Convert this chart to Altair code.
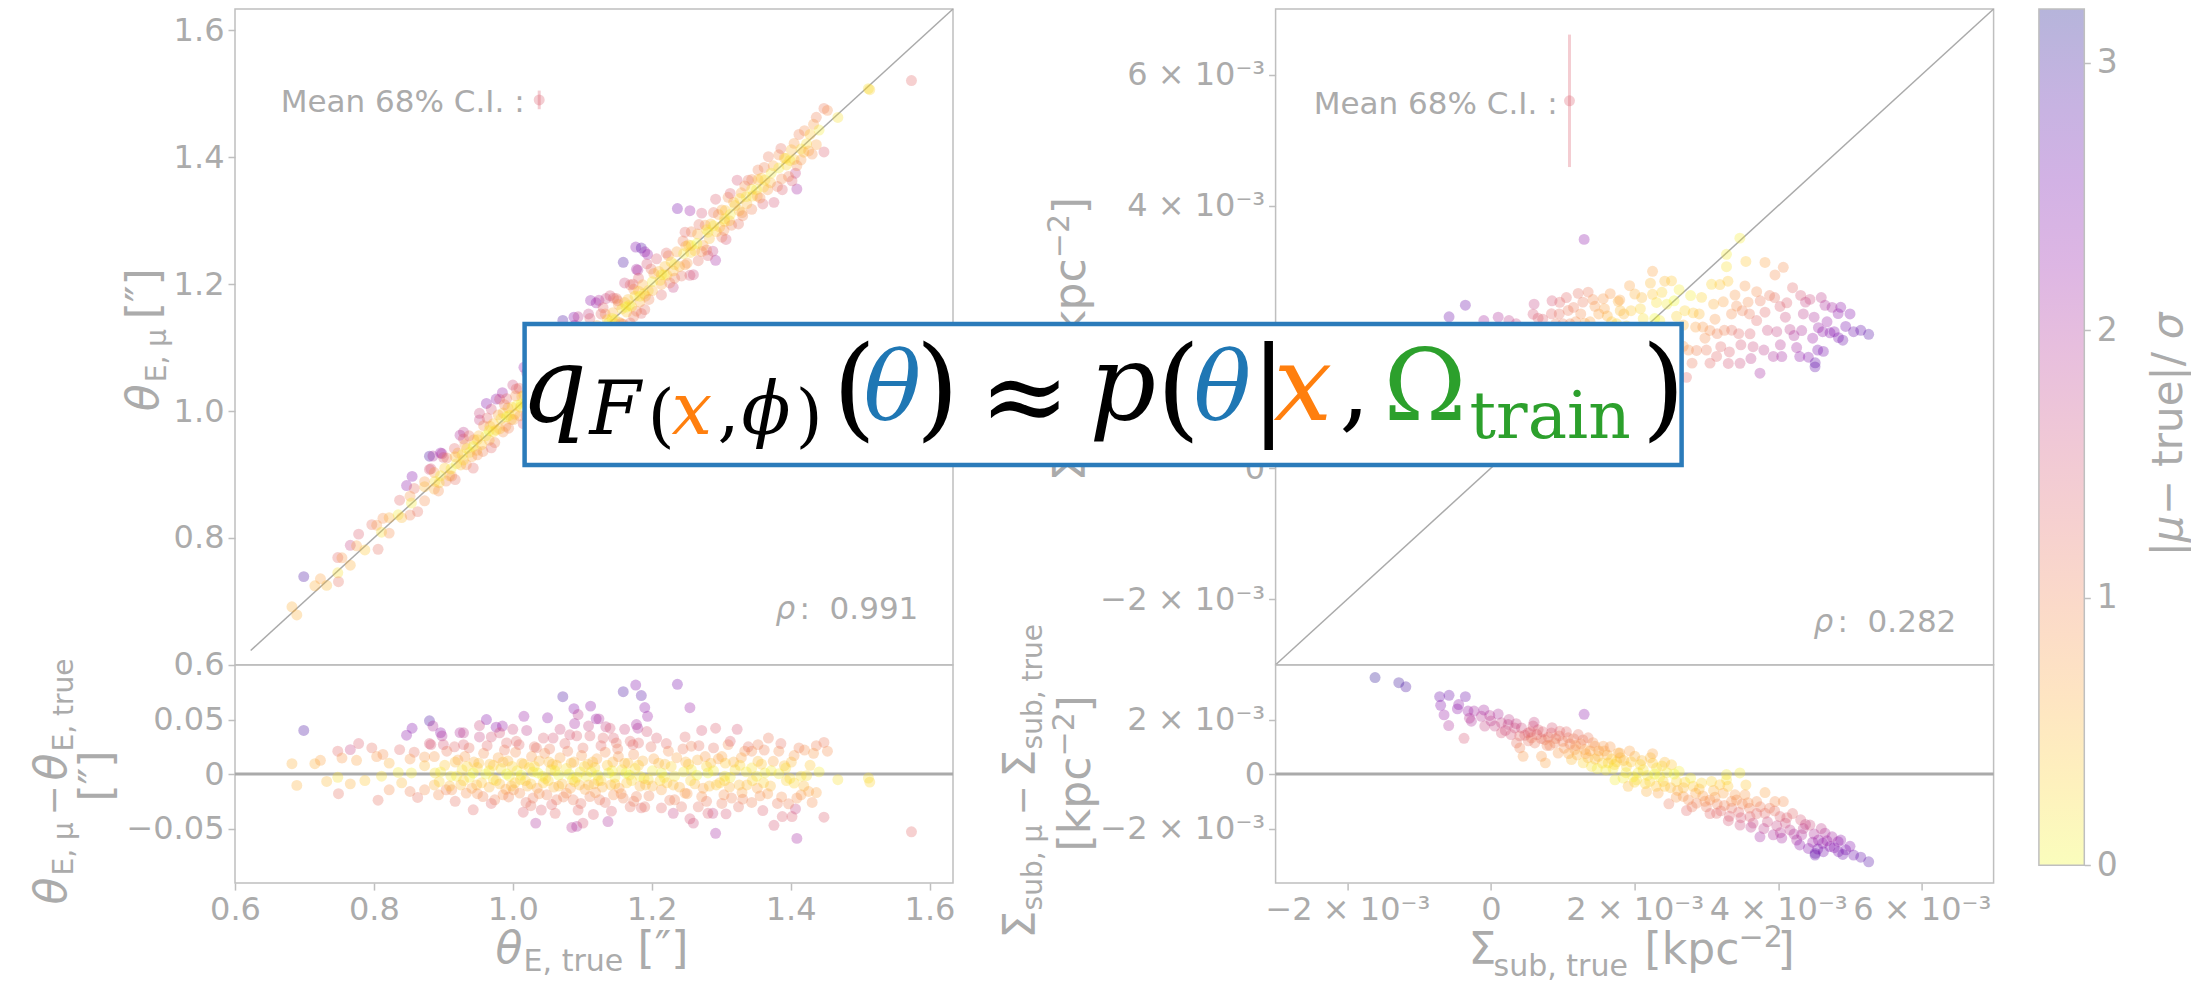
import altair as alt
import pandas as pd

# ---------------- data ----------------
# Left panel: Einstein radius. true value, residual (mu - true), colour value |mu-true|/sigma
THETA_TRUE = [
    0.699, 0.682, 0.689, 0.715, 0.723, 0.732, 0.748, 0.748, 0.749, 0.754,
    0.766, 0.766, 0.775, 0.778, 0.787, 0.797, 0.806, 0.804, 0.813, 0.811,
    0.822, 0.822, 0.837, 0.835, 0.840, 0.847, 0.855, 0.858, 0.852, 0.854,
    0.852, 0.863, 0.873, 0.873, 0.873, 0.880, 0.885, 0.880, 0.882, 0.887,
    0.888, 0.887, 0.896, 0.898, 0.900, 0.904, 0.912, 0.916, 0.919, 0.924,
    0.921,
    0.929, 0.929, 0.952, 0.962, 0.952, 0.969, 0.976, 0.985, 1.000, 1.016,
    1.020, 1.050, 1.072, 1.088, 1.089, 1.094, 1.112, 1.120, 1.124, 1.134,
    1.140, 1.159, 1.161, 1.177, 1.185, 1.178, 1.180, 1.190,
    0.981, 0.991, 1.005, 1.034, 1.044, 1.058, 1.068, 1.082, 1.092, 1.109,
    1.111, 1.130, 1.145, 1.149, 1.169, 1.181,
    0.943, 0.974, 1.015, 1.026, 1.033, 1.041, 1.061, 1.085, 1.092, 1.101,
    1.094, 1.116, 1.137, 1.142, 1.169, 1.185,
    0.933, 0.957, 0.986, 1.001, 1.010, 1.029, 1.049, 1.063, 1.077, 1.087,
    1.111, 1.125, 1.145, 1.159, 1.178,
    0.931, 0.944, 0.958, 0.967, 0.979, 0.993, 1.004, 1.013, 1.027, 1.038,
    1.046, 1.057, 1.068, 1.079, 1.088, 1.099, 1.108, 1.121, 1.133, 1.144,
    1.152, 1.166, 1.174, 1.187,
    0.927, 0.938, 0.949, 0.961, 0.972, 0.983, 0.995, 1.006, 1.018, 1.024,
    1.036, 1.047, 1.055, 1.066, 1.077, 1.086, 1.097, 1.106, 1.118, 1.127,
    1.138, 1.147, 1.157, 1.168, 1.176, 1.189,
    0.925, 0.941, 0.955, 0.966, 0.981, 0.990, 1.003, 1.021, 1.035, 1.044,
    1.059, 1.071, 1.083, 1.096, 1.104, 1.117, 1.129, 1.141, 1.153, 1.164,
    1.183,
    1.194, 1.237, 1.255, 1.207, 1.193, 1.248, 1.272, 1.292, 1.323, 1.368,
    1.353, 1.310, 1.334, 1.383, 1.405, 1.420, 1.437, 1.448, 1.453,
    1.224, 1.257, 1.277, 1.301, 1.344, 1.375, 1.391, 1.353,
    1.344, 1.363, 1.383, 1.393, 1.405, 1.415, 1.423, 1.320, 1.305, 1.281,
    1.257, 1.233, 1.214, 1.195,
    1.292, 1.409, 1.260, 1.255, 1.231, 1.288, 1.307, 1.360, 1.376, 1.388,
    1.402, 1.407, 1.448, 1.431, 1.437, 1.415, 1.397, 1.387, 1.367, 1.344,
    1.330, 1.315, 1.293, 1.361,
    1.190, 1.214, 1.243, 1.267, 1.281, 1.301, 1.325, 1.248, 1.214, 1.272,
    1.233,
    1.203, 1.219, 1.236, 1.249, 1.266, 1.285, 1.296, 1.318, 1.329, 1.201,
    1.222, 1.240, 1.262, 1.274, 1.298, 1.312, 1.337, 1.352,
    1.468, 1.512, 1.514, 1.574,
    0.905, 0.937, 0.963, 0.988, 1.009, 1.031, 1.053, 1.075, 1.101, 1.127,
    1.151, 1.173, 1.199, 1.221, 1.245, 1.268, 1.289, 1.313, 1.339, 1.362,
    1.386, 1.412, 1.433,
    0.902, 0.917, 0.934, 0.951, 0.972, 0.986, 0.999, 1.016, 1.031, 1.052,
    1.063, 1.084, 1.103, 1.115, 1.136, 1.161, 1.181, 1.210, 1.228, 1.253,
    1.279, 1.306, 1.327, 1.358, 1.401, 1.428,
    0.896, 0.911, 0.943, 0.966, 0.991, 1.012, 1.029, 1.043, 1.061, 1.081,
    1.092, 1.113, 1.122, 1.143, 1.163, 1.183, 1.201, 1.218, 1.246, 1.265,
    1.289, 1.313, 1.336, 1.351, 1.372, 1.399, 1.441,
    0.894, 0.909, 0.929, 0.948, 0.976, 0.998, 1.011, 1.026, 1.051, 1.066,
    1.089, 1.109, 1.123, 1.147, 1.171, 1.191, 1.212, 1.231, 1.256, 1.283,
    1.305, 1.326, 1.345, 1.371, 1.394, 1.419,
    0.893, 0.917, 0.949, 0.969, 0.994, 1.019, 1.038, 1.056, 1.073, 1.098,
    1.119, 1.133, 1.156, 1.174, 1.196, 1.226, 1.251, 1.279, 1.304, 1.331,
    1.356, 1.381, 1.409, 1.426,
]
THETA_RESID = [
    0.040, 0.0095, -0.0104, 0.0095, 0.0126, -0.0068, -0.003, 0.021, -0.018, 0.0147,
    0.0224, -0.009, 0.0126, 0.028, -0.006, 0.024, -0.024, 0.016, 0.018, -0.002,
    0.010, -0.0144, 0.0224, 0.0015, -0.008, 0.0356, 0.042, 0.020, 0.0138, 0.001,
    -0.016, -0.0215, 0.0157, 0.0077, -0.0144, 0.0488, 0.044, 0.028, 0.027, 0.016,
    0.001, -0.010, 0.038, 0.035, 0.027, -0.0144, -0.0144, 0.025, -0.002, 0.038,
    0.013,
    0.0378, 0.027, 0.0445, 0.050, 0.034, 0.034, 0.043, 0.044, 0.041, 0.053,
    0.040, 0.0516, 0.0709, 0.0599, 0.0463, 0.0546, 0.0623, 0.0506, 0.0506, 0.0433,
    0.042, 0.0755, 0.041, 0.0816, 0.072, 0.0454, 0.042, 0.061,
    0.0378, 0.0285, 0.030, 0.024, 0.033, 0.033, 0.041, 0.036, 0.035, 0.044,
    0.035, 0.033, 0.033, 0.0285, 0.030, 0.0285,
    -0.0328, -0.0236, -0.035, -0.029, -0.045, -0.033, -0.036, -0.049, -0.048, -0.045,
    -0.033, -0.037, -0.0436, -0.034, -0.030, -0.031,
    -0.0175, -0.0206, -0.019, -0.0144, -0.0175, -0.022, -0.019, -0.0236, -0.0175, -0.0236,
    -0.0206, -0.0236, -0.019, -0.022, -0.0206,
    0.016, 0.011, 0.019, 0.009, 0.015, 0.012, 0.020, 0.010, 0.016, 0.012,
    0.019, 0.009, 0.015, 0.021, 0.011, 0.017, 0.009, 0.014, 0.020, 0.011,
    0.016, 0.010, 0.018, 0.012,
    0.004, -0.003, 0.006, 0.000, -0.005, 0.005, -0.002, 0.003, -0.006, 0.006,
    0.001, -0.004, 0.004, -0.001, 0.005, -0.005, 0.002, -0.002, 0.006, -0.006,
    0.001, -0.003, 0.004, -0.001, 0.005, -0.004,
    -0.010, -0.013, -0.008, -0.012, -0.009, -0.014, -0.008, -0.011, -0.013, -0.008,
    -0.012, -0.009, -0.013, -0.010, -0.014, -0.009, -0.012, -0.010, -0.013, -0.008,
    -0.011,
    0.053, 0.0823, 0.0608, 0.033, 0.039, 0.034, 0.040, 0.042, 0.041, 0.033,
    0.027, 0.027, 0.021, 0.021, 0.017, 0.022, 0.026, 0.029, 0.021,
    0.021, 0.0255, 0.016, 0.016, 0.021, 0.0117, 0.0077, 0.0117,
    0.0055, 0.001, 0.0003, 0.0055, -0.0083, -0.002, -0.0015, 0.004, -0.002, 0.001,
    0.004, -0.002, 0.001, -0.005,
    -0.0543, -0.059, -0.045, -0.041, -0.036, -0.036, -0.0365, -0.0335, -0.047, -0.039,
    -0.039, -0.032, -0.0396, -0.026, -0.017, -0.019, -0.0273, -0.021, -0.018, -0.026,
    -0.017, -0.022, -0.010, -0.008,
    -0.030, -0.031, -0.030, -0.030, -0.036, -0.027, -0.030, -0.0175, -0.0144, -0.0206,
    -0.0236,
    0.014, 0.009, 0.015, 0.011, 0.013, 0.010, 0.014, 0.011, 0.015, -0.011,
    -0.008, -0.012, -0.009, -0.013, -0.008, -0.012, -0.010, -0.013,
    -0.0052, -0.0037, -0.0074, -0.053,
    0.021, 0.024, 0.026, 0.022, 0.027, 0.025, 0.023, 0.028, 0.024, 0.026,
    0.023, 0.027, 0.025, 0.028, 0.023, 0.026, 0.024, 0.030, 0.025, 0.022,
    0.028, 0.024, 0.019,
    0.008, 0.011, 0.007, 0.010, 0.008, 0.011, 0.007, 0.009, 0.007, 0.011,
    0.008, 0.010, 0.007, 0.011, 0.008, 0.010, 0.008, 0.010, 0.007, 0.009,
    0.007, 0.010, 0.008, 0.009, 0.011, 0.008,
    0.002, -0.002, 0.001, 0.003, 0.000, -0.001, 0.002, -0.002, 0.003, 0.000,
    -0.003, 0.002, -0.001, 0.003, 0.001, -0.002, 0.003, -0.003, 0.002, -0.001,
    0.003, -0.003, 0.002, -0.002, 0.003, -0.004, 0.002,
    -0.007, -0.011, -0.006, -0.010, -0.006, -0.011, -0.005, -0.009, -0.006, -0.011,
    -0.007, -0.010, -0.006, -0.009, -0.006, -0.010, -0.006, -0.010, -0.006, -0.011,
    -0.006, -0.010, -0.006, -0.011, -0.006, -0.011,
    -0.019, -0.025, -0.018, -0.027, -0.021, -0.026, -0.018, -0.028, -0.021, -0.027,
    -0.017, -0.026, -0.018, -0.025, -0.020, -0.024, -0.018, -0.025, -0.019, -0.023,
    -0.020, -0.027, -0.022, -0.016,
]
THETA_SCORE = [
    2.9, 0.6, 0.6, 0.6, 0.7, 0.5, 0.2, 1.3, 1.2, 0.8,
    1.7, 0.6, 0.7, 1.4, 0.4, 1.2, 1.2, 0.8, 0.9, 0.2,
    0.6, 0.9, 1.3, 0.1, 0.5, 2.3, 2.4, 1.2, 0.8, 0.1,
    1.0, 1.2, 0.8, 0.5, 0.9, 2.9, 2.0, 1.5, 1.5, 0.8,
    0.2, 0.6, 2.3, 2.0, 1.5, 1.0, 0.9, 1.3, 0.1, 2.0,
    0.7,
    1.8, 1.4, 1.6, 2.4, 1.7, 1.5, 2.3, 2.2, 1.6, 2.2,
    1.8, 2.3, 2.9, 2.4, 2.1, 1.8, 2.3, 2.2, 2.0, 1.7,
    1.5, 2.9, 1.6, 2.4, 2.8, 2.1, 2.0, 2.3,
    1.5, 1.3, 1.3, 1.2, 1.4, 1.5, 1.6, 1.5, 1.4, 1.7,
    1.4, 1.3, 1.4, 1.2, 1.3, 1.3,
    1.3, 1.0, 1.4, 1.2, 2.0, 1.4, 1.3, 1.9, 2.0, 1.5,
    1.3, 1.4, 2.0, 1.4, 1.2, 1.3,
    0.9, 1.0, 0.9, 0.8, 0.9, 1.1, 1.0, 1.1, 0.9, 1.1,
    1.0, 1.1, 0.9, 1.0, 1.0,
    0.8, 0.6, 0.9, 0.5, 0.7, 0.6, 0.9, 0.5, 0.8, 0.6,
    0.9, 0.5, 0.7, 1.0, 0.6, 0.8, 0.5, 0.7, 0.9, 0.6,
    0.8, 0.5, 0.9, 0.6,
    0.2, 0.1, 0.3, 0.0, 0.2, 0.2, 0.1, 0.1, 0.3, 0.3,
    0.0, 0.2, 0.2, 0.0, 0.2, 0.2, 0.1, 0.1, 0.3, 0.3,
    0.0, 0.1, 0.2, 0.0, 0.2, 0.2,
    0.5, 0.7, 0.4, 0.6, 0.5, 0.7, 0.4, 0.6, 0.7, 0.4,
    0.6, 0.5, 0.7, 0.5, 0.7, 0.5, 0.6, 0.5, 0.7, 0.4,
    0.6,
    2.2, 2.5, 2.2, 1.4, 1.5, 1.3, 1.5, 1.4, 1.5, 1.1,
    1.0, 0.9, 0.9, 0.9, 0.8, 0.9, 1.0, 1.1, 0.9,
    0.9, 1.0, 0.8, 0.7, 0.9, 0.7, 0.5, 0.5,
    0.2, 0.1, 0.1, 0.2, 0.3, 0.2, 0.2, 0.2, 0.1, 0.0,
    0.1, 0.1, 0.0, 0.2,
    2.1, 2.1, 1.6, 1.5, 1.7, 1.7, 1.5, 1.4, 1.5, 1.4,
    1.4, 1.7, 1.4, 0.9, 0.7, 0.8, 1.0, 0.9, 0.8, 1.0,
    0.7, 1.0, 0.4, 0.3,
    1.2, 1.3, 1.2, 1.2, 1.4, 1.1, 1.2, 0.8, 0.7, 0.9,
    1.0,
    0.7, 0.5, 0.7, 0.6, 0.6, 0.5, 0.7, 0.6, 0.7, 0.6,
    0.4, 0.6, 0.5, 0.7, 0.4, 0.6, 0.5, 0.7,
    0.2, 0.2, 0.3, 1.3,
    1.1, 1.2, 1.3, 1.1, 1.3, 1.2, 1.1, 1.3, 1.2, 1.3,
    1.1, 1.3, 1.2, 1.3, 1.1, 1.2, 1.2, 1.4, 1.2, 1.0,
    1.2, 1.0, 0.8,
    0.4, 0.5, 0.3, 0.5, 0.4, 0.5, 0.3, 0.4, 0.3, 0.5,
    0.4, 0.5, 0.3, 0.5, 0.4, 0.5, 0.4, 0.5, 0.3, 0.4,
    0.3, 0.4, 0.3, 0.4, 0.5, 0.4,
    0.1, 0.1, 0.0, 0.1, 0.0, 0.0, 0.1, 0.1, 0.1, 0.0,
    0.1, 0.1, 0.0, 0.1, 0.0, 0.1, 0.1, 0.1, 0.1, 0.0,
    0.1, 0.1, 0.1, 0.1, 0.1, 0.2, 0.1,
    0.3, 0.5, 0.3, 0.5, 0.3, 0.5, 0.3, 0.4, 0.3, 0.5,
    0.3, 0.5, 0.3, 0.4, 0.3, 0.5, 0.3, 0.5, 0.3, 0.5,
    0.3, 0.5, 0.3, 0.5, 0.3, 0.5,
    0.9, 1.2, 0.9, 1.3, 1.0, 1.2, 0.9, 1.3, 1.0, 1.2,
    0.8, 1.2, 0.9, 1.1, 1.0, 1.1, 0.8, 1.1, 0.9, 1.0,
    0.9, 1.1, 0.9, 0.7,
]

# Right panel: Sigma_sub in units of 1e-3 kpc^-2
SIGMA_TRUE = [
    -1.615, -1.284, -1.186, -0.715, -0.584, -0.357, -0.701, -0.468, -0.654, -0.589,
    -0.376, -0.320, -0.236, -0.273, -0.134, -0.017, -0.087, 0.053, 0.145, 0.239,
    0.145, 0.331, 0.356, 0.424, 0.401, 0.447, 0.517, 0.586, 0.656, 0.610,
    0.703, 0.757, 0.748, 0.842, 0.958, 0.888, 0.935, 1.074, 1.214, 1.297,
    1.167, 1.121, 1.307, 1.284, 1.400, 1.447, 1.563, 1.493, 1.633, 1.726,
    1.772, 1.353, 0.563,
    0.20, 0.28, 0.47, 0.52, 0.64, 0.70, 0.80, 0.82, 0.90, 1.00,
    1.02, 1.10, 1.15, 1.25, 1.20, 1.35, 1.38, 1.50, 1.55, 1.62,
    1.68, 1.70, 1.60, 1.48, 1.75,
    1.794, 2.003, 2.250, 2.420, 2.514, 1.887, 2.120, 2.305, 1.840, 2.027,
    2.212, 2.398, 2.584, 3.466, 3.280, 3.280, 1.910, 2.166, 2.328, 2.477,
    2.723, 2.816, 2.933, 3.072, 3.188, 2.677, 2.863, 3.049, 3.235, 3.398,
    3.537, 3.816, 3.700, 3.955, 4.071, 3.142, 3.305, 3.468, 3.352, 3.607,
    3.746, 3.816, 3.932, 4.025, 4.164, 4.313, 4.442, 4.327, 4.257, 4.420,
    4.513, 4.629, 4.652, 4.722, 4.839, 4.871, 4.560, 4.030,
    4.835, 5.050, 5.260, 4.515, 4.620, 4.940,
    1.95, 2.05, 2.10, 2.18, 2.25, 2.35, 2.45, 2.50, 2.60, 2.62,
    2.70, 2.75, 2.85, 2.95, 3.00, 3.10, 3.15, 3.20, 3.35, 3.45,
    3.50, 3.60, 3.65, 3.75, 3.85, 3.95, 4.10, 4.20, 4.35, 4.50,
    4.60, 4.75, 2.00, 2.30, 1.85, 3.30, 3.55,
    -0.45, -0.30, -0.10, 0.00, 0.10, 0.25, 0.35, 0.40, 0.55, 0.60,
    0.72, 0.78, 0.85, 0.95, 1.05, 1.08, 1.18, 1.28, 1.32, 1.42,
    1.45, 1.58, 1.66, 1.72, 1.80, 1.88, 1.93, 1.98, 2.08, 2.15,
    2.22, 2.28, 2.38, 2.42, 2.55, 2.58, 2.68, 2.78, 2.80, 2.90,
    2.98, 3.05, 3.12, 3.25, 3.32, 3.42, 3.48, 3.58, 3.62, 3.70,
    3.80, 3.88, 3.98, 4.05, 4.12, 4.22, 4.30, 4.38, 4.48, 4.55,
    4.68, 4.78, 4.90, 5.00, 5.15,
]
SIGMA_RESID = [
    3.54, 3.35, 3.20, 2.84, 2.89, 2.84, 2.52, 2.39, 2.17, 1.78,
    1.31, 2.31, 2.31, 1.94, 2.12, 2.15, 1.76, 1.76, 1.88, 1.82,
    1.51, 1.69, 1.14, 1.69, 0.96, 0.65, 1.51, 1.76, 1.63, 1.14,
    0.65, 0.41, 1.26, 1.51, 1.57, 1.14, 0.77, 1.33, 1.45, 2.19,
    0.90, 0.53, 0.90, 0.41, 0.28, 1.02, 1.02, 0.65, 0.41, -0.21,
    0.77, 1.33, 1.33,
    1.60, 1.45, 1.42, 1.22, 1.45, 1.30, 1.35, 1.05, 1.30, 1.20,
    0.95, 1.10, 1.30, 1.10, 0.70, 0.60, 0.85, 0.85, 0.40, 0.70,
    0.55, 0.20, 0.15, 0.20, 0.45,
    0.77, 0.65, 0.75, 0.43, 0.34, 0.28, 0.16, 0.22, -0.15, -0.21,
    -0.27, -0.27, -0.27, 0.04, -0.02, -0.21, -0.45, -0.64, -0.70, -1.09,
    -1.34, -0.45, -0.33, -0.27, -0.39, -0.82, -1.07, -0.95, -0.70, -0.76,
    -0.76, -0.68, -1.01, -1.01, -1.01, -1.44, -1.71, -1.87, -1.25, -1.56,
    -2.30, -1.44, -2.23, -1.56, -2.05, -1.68, -1.87, -2.23, -2.42, -2.73,
    -2.97, -2.85, -2.17, -2.66, -2.85, -2.42, -2.42, -2.15,
    -2.48, -2.97, -3.22, -2.91, -2.54, -2.78,
    0.45, 0.05, 0.50, -0.05, 0.40, -0.10, 0.05, -0.50, -0.60, 0.10,
    -0.30, -0.95, -0.70, -0.80, -1.20, -0.60, -1.10, -1.35, -1.00, -1.40,
    -1.10, -1.25, -1.80, -1.20, -1.75, -1.35, -1.80, -1.45, -2.00, -2.20,
    -2.00, -2.30, -0.30, -0.45, 0.50, -0.45, -0.40,
    2.55, 2.05, 2.35, 1.95, 2.20, 2.00, 1.85, 1.40, 1.55, 1.90,
    1.55, 1.05, 1.70, 1.40, 1.55, 0.75, 1.05, 1.25, 0.75, 1.15,
    0.55, 0.85, 1.00, 0.35, 0.60, 0.05, 0.85, -0.10, 0.35, -0.35,
    0.60, 0.00, 0.30, -0.45, 0.00, -0.85, -0.50, -0.15, -1.20, -0.55,
    -1.00, -1.45, -0.85, -1.15, -1.55, -0.95, -1.60, -1.05, -1.95, -1.45,
    -2.00, -1.25, -1.90, -2.35, -1.60, -2.20, -2.60, -1.85, -2.50, -2.75,
    -2.45, -2.70, -2.95, -2.65, -3.05,
]
SIGMA_SCORE = [
    3.1, 3.0, 2.9, 2.6, 2.6, 2.6, 2.4, 2.3, 2.2, 2.0,
    1.5, 2.2, 2.1, 2.0, 1.9, 1.9, 1.7, 1.7, 1.7, 1.7,
    1.5, 1.6, 1.2, 1.6, 1.0, 0.8, 1.4, 1.5, 1.4, 1.1,
    0.8, 0.7, 1.1, 1.3, 1.3, 1.0, 0.8, 1.1, 1.2, 2.3,
    0.8, 0.5, 0.7, 0.3, 0.2, 0.8, 0.8, 0.6, 0.3, 0.1,
    0.6, 1.1, 1.1,
    1.6, 1.5, 1.4, 1.2, 1.3, 1.2, 1.2, 1.0, 1.1, 1.1,
    0.9, 1.0, 1.1, 0.9, 0.6, 0.5, 0.7, 0.7, 0.3, 0.6,
    0.4, 0.1, 0.1, 0.1, 0.3,
    0.7, 0.6, 0.7, 0.5, 0.4, 0.3, 0.2, 0.2, 0.1, 0.2,
    0.3, 0.3, 0.3, 0.1, 0.1, 0.2, 0.5, 0.6, 0.7, 1.1,
    1.3, 0.4, 0.3, 0.3, 0.4, 0.8, 1.0, 0.9, 0.7, 0.8,
    0.8, 0.7, 0.9, 0.9, 0.9, 1.3, 1.5, 1.6, 1.2, 1.4,
    2.1, 1.3, 2.0, 1.4, 1.8, 1.5, 1.6, 2.0, 2.1, 2.4,
    2.7, 2.5, 2.0, 2.4, 2.5, 2.3, 2.2, 1.9,
    2.3, 2.6, 2.8, 2.7, 2.3, 2.5,
    0.4, 0.1, 0.5, 0.1, 0.4, 0.1, 0.1, 0.5, 0.6, 0.1,
    0.3, 0.9, 0.7, 0.8, 1.1, 0.6, 1.0, 1.3, 0.9, 1.3,
    1.0, 1.1, 1.6, 1.1, 1.6, 1.2, 1.6, 1.3, 1.8, 2.0,
    1.8, 2.1, 0.3, 0.4, 0.5, 0.4, 0.4,
    2.3, 1.9, 2.1, 1.8, 2.0, 1.8, 1.7, 1.3, 1.4, 1.7,
    1.4, 1.0, 1.5, 1.2, 1.3, 0.7, 0.9, 1.1, 0.7, 0.9,
    0.5, 0.7, 0.8, 0.3, 0.5, 0.1, 0.7, 0.1, 0.3, 0.3,
    0.5, 0.0, 0.3, 0.4, 0.0, 0.8, 0.5, 0.1, 1.1, 0.5,
    0.9, 1.3, 0.8, 1.0, 1.4, 0.9, 1.5, 0.9, 1.8, 1.3,
    1.8, 1.1, 1.7, 2.1, 1.4, 2.0, 2.3, 1.7, 2.2, 2.5,
    2.2, 2.4, 2.6, 2.4, 2.7,
]
assert len(THETA_TRUE) == len(THETA_RESID) == len(THETA_SCORE)
assert len(SIGMA_TRUE) == len(SIGMA_RESID) == len(SIGMA_SCORE)

# mean 68% C.I. markers: x, y, half width, colour value
CI_THETA = [1.038, 1.4905, 0.0147, 1.4]
CI_SIGMA = [1.093, 5.60, 1.01, 1.4]
RHO_TEXT = ["0.991", "0.282"]
DIAG_THETA = [0.6226, 1.6338]
DIAG_SIGMA = [-3.0, 7.0]

THETA_DOMAIN = [0.6, 1.6338]
THETA_RES_DOMAIN = [-0.1, 0.1]
SIGMA_DOMAIN = [-3.0, 7.0]
SIGMA_RES_DOMAIN = [-4.0, 4.0]
COLOR_DOMAIN = [0.0, 3.2]

THETA_TICKS = [0.6, 0.8, 1.0, 1.2, 1.4, 1.6]
THETA_RES_TICKS = [-0.05, 0, 0.05]
SIGMA_TICKS = [-2, 0, 2, 4, 6]
SIGMA_RES_TICKS = [-2, 0, 2]
CBAR_TICKS = [0, 1, 2, 3]
PLASMA = ["#0d0887", "#41049d", "#6a00a8", "#8f0da4", "#b12a90", "#cc4778",
          "#e16462", "#f2844b", "#fca636", "#fcce25", "#f0f921"]

# ---------------- styling / layout ----------------
SANS = "DejaVu Sans"
SERIF = "DejaVu Serif"
TXT = "#ababab"
FRAME = "#bfbfbf"
LINE = "#aaaaaa"
INK = "#000000"
BLUE, ORANGE, GREEN = "#1f77b4", "#ff7f0e", "#2ca02c"
BOX = "#2b7bba"
PT = 120
ALPHA = 0.3
LBL = 32
SUB = 28

LX0, RX0, Y0 = 233.4, 1274.0, 7.8
PW = 718.0
TH, BH = 655.8, 218.1
CB_X0, CB_W, CB_H = 2037.3, 45.4, 856.2

O_LT = (LX0, Y0)
O_LB = (LX0, Y0 + TH)
O_RT = (RX0, Y0)
O_RB = (RX0, Y0 + TH)

ONE = pd.DataFrame({"k": [0]})


def text_layers(specs, origin):
    ox, oy = origin
    out = []
    for sp in specs:
        s, px, py, size = sp[:4]
        o = sp[4] if len(sp) > 4 else {}
        kw = dict(text=s, fontSize=size, font=o.get("font", SANS), color=o.get("color", TXT),
                  align=o.get("align", "left"), baseline="alphabetic")
        if o.get("angle"):
            kw["angle"] = o["angle"]
        if o.get("italic"):
            kw["fontStyle"] = "italic"
        out.append(alt.Chart(ONE).mark_text(**kw).encode(x=alt.value(px - ox), y=alt.value(py - oy)))
    return out


R = {"angle": 270}
IR = {"angle": 270, "italic": True}
I = {"italic": True}

CSCALE = alt.Scale(scheme="plasma", reverse=True, domain=COLOR_DOMAIN, clamp=True)
COLOR = alt.Color("c:Q", scale=CSCALE, legend=None)

SIG_EXPR = "datum.value == 0 ? '0' : format(datum.value, 'd') + ' × 10⁻³'"

# ---------------- left (theta_E) ----------------
left = pd.DataFrame({"t": THETA_TRUE, "r": THETA_RESID, "c": THETA_SCORE})
left["m"] = left["t"] + left["r"]

XL = alt.Scale(domain=THETA_DOMAIN, nice=False, zero=False)
YLT = alt.Scale(domain=THETA_DOMAIN, nice=False, zero=False)
YLB = alt.Scale(domain=THETA_RES_DOMAIN, nice=False, zero=False)
AX_LT_Y = alt.Axis(values=THETA_TICKS, format=".1f", title=None)
AX_LB_Y = alt.Axis(values=THETA_RES_TICKS, labelExpr="datum.value == 0 ? '0' : format(datum.value, '.2f')", title=None)
AX_LB_X = alt.Axis(values=THETA_TICKS, format=".1f", title=None)

lt_x = alt.X("t:Q", scale=XL, axis=None)
lt_pts = alt.Chart(left).mark_circle(size=PT, opacity=ALPHA).encode(
    x=lt_x, y=alt.Y("m:Q", scale=YLT, axis=AX_LT_Y), color=COLOR)
lt_diag = alt.Chart(pd.DataFrame({"t": DIAG_THETA, "m": DIAG_THETA})).mark_line(
    color=LINE, strokeWidth=1.5).encode(x=lt_x, y=alt.Y("m:Q", scale=YLT, axis=AX_LT_Y))
ci_l = pd.DataFrame({"t": [CI_THETA[0]], "m": [CI_THETA[1]], "lo": [CI_THETA[1] - CI_THETA[2]],
                     "hi": [CI_THETA[1] + CI_THETA[2]], "c": [CI_THETA[3]]})
lt_ci_bar = alt.Chart(ci_l).mark_rule(strokeWidth=3, opacity=ALPHA).encode(
    x=lt_x, y=alt.Y("lo:Q", scale=YLT, axis=AX_LT_Y), y2="hi:Q", color=COLOR)
lt_ci_pt = alt.Chart(ci_l).mark_circle(size=PT, opacity=ALPHA).encode(
    x=lt_x, y=alt.Y("m:Q", scale=YLT, axis=AX_LT_Y), color=COLOR)
anchor = alt.Chart(ONE).mark_rule(color="white", strokeWidth=1).encode(
    x=alt.value(-LX0 + 0.5), x2=alt.value(-LX0 + 1.5), y=alt.value(-Y0 + 0.5), y2=alt.value(-Y0 + 0.5))

lt_texts = text_layers([
    ("Mean 68% C.I. :", 523, 111, LBL - 1, {"align": "right"}),
    ("ρ", 774, 618, LBL - 1, I), (":", 798, 618, LBL - 1), (RHO_TEXT[0], 828, 618, LBL - 1),
    ("θ", 156, 410, 44, IR), ("E, μ", 164, 381, SUB, R), ("[″]", 156, 318, 44, R),
], O_LT)

left_top = alt.layer(anchor, lt_diag, lt_pts, lt_ci_bar, lt_ci_pt, *lt_texts).properties(width=PW, height=TH)

lb_x = alt.X("t:Q", scale=XL, axis=AX_LB_X)
lb_pts = alt.Chart(left).mark_circle(size=PT, opacity=ALPHA).encode(
    x=lb_x, y=alt.Y("r:Q", scale=YLB, axis=AX_LB_Y), color=COLOR)
lb_zero = alt.Chart(pd.DataFrame({"r": [0.0]})).mark_rule(color=LINE, strokeWidth=3).encode(
    y=alt.Y("r:Q", scale=YLB, axis=AX_LB_Y))
lb_texts = text_layers([
    ("θ", 64, 903, 44, IR), ("E, μ", 71, 874, SUB, R), ("−", 64, 814, 36, R),
    ("θ", 64, 779, 44, IR), ("E, true", 71, 750, SUB, R),
    ("[″]", 109, 800, 44, R),
    ("θ", 494, 962, 44, I), ("E, true", 522, 970, 30), ("[″]", 636, 962, 44),
], O_LB)
left_bot = alt.layer(lb_zero, lb_pts, *lb_texts).properties(width=PW, height=BH)

# ---------------- right (Sigma_sub) ----------------
right = pd.DataFrame({"t": SIGMA_TRUE, "r": SIGMA_RESID, "c": SIGMA_SCORE})
right["m"] = right["t"] + right["r"]

XR = alt.Scale(domain=SIGMA_DOMAIN, nice=False, zero=False)
YRT = alt.Scale(domain=SIGMA_DOMAIN, nice=False, zero=False)
YRB = alt.Scale(domain=SIGMA_RES_DOMAIN, nice=False, zero=False)
AX_RT_Y = alt.Axis(values=SIGMA_TICKS, labelExpr=SIG_EXPR, title=None)
AX_RB_Y = alt.Axis(values=SIGMA_RES_TICKS, labelExpr=SIG_EXPR, title=None)
AX_RB_X = alt.Axis(values=SIGMA_TICKS, labelExpr=SIG_EXPR, title=None)

rt_x = alt.X("t:Q", scale=XR, axis=None)
rt_pts = alt.Chart(right).mark_circle(size=PT, opacity=ALPHA).encode(
    x=rt_x, y=alt.Y("m:Q", scale=YRT, axis=AX_RT_Y), color=COLOR)
rt_diag = alt.Chart(pd.DataFrame({"t": DIAG_SIGMA, "m": DIAG_SIGMA})).mark_line(
    color=LINE, strokeWidth=1.5).encode(x=rt_x, y=alt.Y("m:Q", scale=YRT, axis=AX_RT_Y))
ci_r = pd.DataFrame({"t": [CI_SIGMA[0]], "m": [CI_SIGMA[1]], "lo": [CI_SIGMA[1] - CI_SIGMA[2]],
                     "hi": [CI_SIGMA[1] + CI_SIGMA[2]], "c": [CI_SIGMA[3]]})
rt_ci_bar = alt.Chart(ci_r).mark_rule(strokeWidth=3, opacity=ALPHA).encode(
    x=rt_x, y=alt.Y("lo:Q", scale=YRT, axis=AX_RT_Y), y2="hi:Q", color=COLOR)
rt_ci_pt = alt.Chart(ci_r).mark_circle(size=PT, opacity=ALPHA).encode(
    x=rt_x, y=alt.Y("m:Q", scale=YRT, axis=AX_RT_Y), color=COLOR)
rt_texts = text_layers([
    ("Mean 68% C.I. :", 1556, 113, LBL - 1, {"align": "right"}),
    ("ρ", 1812, 631, LBL - 1, I), (":", 1836, 631, LBL - 1), (RHO_TEXT[1], 1866, 631, LBL - 1),
    ("Σ", 1083, 480, 44, R), ("sub, μ", 1090, 452, SUB, R), ("[kpc", 1083, 352, 44, R),
    ("−2", 1067, 257, 30, R), ("]", 1083, 213, 44, R),
    # colour-bar label
    ("|", 2180, 555, 42, R), ("μ", 2180, 541, 42, IR), (" − true|/", 2180, 514, 42, R),
    ("σ", 2180, 338, 42, IR),
], O_RT)
rt_main = alt.layer(rt_diag, rt_pts, rt_ci_bar, rt_ci_pt, *rt_texts)

GRAD = {"gradient": "linear", "x1": 0, "x2": 0, "y1": 0, "y2": 1,
        "stops": [{"offset": i / (len(PLASMA) - 1), "color": c} for i, c in enumerate(PLASMA)]}
cbar = alt.Chart(pd.DataFrame({"v": [COLOR_DOMAIN[0]], "v2": [COLOR_DOMAIN[1]]})).mark_rect(
    fill=GRAD, fillOpacity=ALPHA, stroke=FRAME, strokeWidth=1.5).encode(
    x=alt.value(CB_X0 - RX0), x2=alt.value(CB_X0 - RX0 + CB_W),
    y=alt.Y("v:Q", scale=alt.Scale(domain=COLOR_DOMAIN, range=[CB_H, 0], nice=False, zero=False),
            axis=alt.Axis(orient="right", offset=CB_X0 + CB_W - (RX0 + PW), values=CBAR_TICKS,
                          format="d", title=None, labelFontSize=33, labelPadding=6, tickSize=6)),
    y2="v2:Q")
right_top = alt.layer(rt_main, cbar).resolve_scale(y="independent").properties(width=PW, height=TH)

rb_x = alt.X("t:Q", scale=XR, axis=AX_RB_X)
rb_pts = alt.Chart(right).mark_circle(size=PT, opacity=ALPHA).encode(
    x=rb_x, y=alt.Y("r:Q", scale=YRB, axis=AX_RB_Y), color=COLOR)
rb_zero = alt.Chart(pd.DataFrame({"r": [0.0]})).mark_rule(color=LINE, strokeWidth=3).encode(
    y=alt.Y("r:Q", scale=YRB, axis=AX_RB_Y))
rb_texts = text_layers([
    ("Σ", 1033, 937, 44, R), ("sub, μ", 1040, 909, SUB, R), ("−", 1033, 814, 36, R),
    ("Σ", 1033, 776, 44, R), ("sub, true", 1040, 748, SUB, R),
    ("[kpc", 1088, 850, 44, R), ("−2", 1072, 755, 30, R), ("]", 1088, 711, 44, R),
    ("Σ", 1467, 963, 44), ("sub, true", 1492, 975, 30), ("[kpc", 1643, 963, 44),
    ("−2", 1737, 946, 30), ("]", 1776, 963, 44),
], O_RB)

# formula box (drawn last so it sits on top of both panels)
ox, oy = O_RB
box = alt.Chart(ONE).mark_rect(fill="white", stroke=BOX, strokeWidth=4.5).encode(
    x=alt.value(523 - ox), x2=alt.value(1680 - ox), y=alt.value(322.5 - oy), y2=alt.value(463.5 - oy))
FS = {"font": SERIF, "color": INK}
FI = {"font": SERIF, "italic": True, "color": INK}
formula = text_layers([
    ("q", 519, 420, 104, FI),
    ("F", 588, 433, 74, FI),
    ("(", 646, 438, 70, FS),
    ("x", 670, 433, 72, {"font": SERIF, "italic": True, "color": ORANGE}),
    (",", 716, 433, 70, FS),
    ("ϕ", 740, 433, 72, FI),
    (")", 794, 438, 70, FS),
    ("(", 831, 425, 112, FS),
    ("θ", 862, 419, 96, {"font": SERIF, "italic": True, "color": BLUE}),
    (")", 914, 425, 112, FS),
    ("≈", 978, 432, 108, FS),
    ("p", 1088, 419, 104, FI),
    ("(", 1155, 425, 112, FS),
    ("θ", 1192, 419, 96, {"font": SERIF, "italic": True, "color": BLUE}),
    ("|", 1249, 423, 108, FS),
    ("x", 1272, 419, 104, {"font": SERIF, "italic": True, "color": ORANGE}),
    (",", 1338, 419, 96, FS),
    ("Ω", 1382, 419, 100, {"font": SERIF, "color": GREEN}),
    ("train", 1468, 437, 66, {"font": SERIF, "color": GREEN}),
    (")", 1640, 425, 112, FS),
], O_RB)
right_bot = alt.layer(rb_zero, rb_pts, *rb_texts, box, *formula).properties(width=PW, height=BH)

chart = alt.concat(
    left_top, right_top, left_bot, right_bot,
    columns=2, spacing={"row": 0, "column": RX0 - (LX0 + PW)}, align="each", bounds="flush",
).properties(padding=0, background="white").configure_view(
    stroke=FRAME, strokeWidth=1.5
).configure_axis(
    labelFont=SANS, labelFontSize=LBL, labelColor=TXT, tickColor=FRAME, tickSize=7, tickWidth=1.5,
    domain=False, grid=False, labelPadding=4, labelFlush=False, labelOverlap=False,
)

chart.save("out.html", embed_options={"renderer": "svg", "actions": False})
